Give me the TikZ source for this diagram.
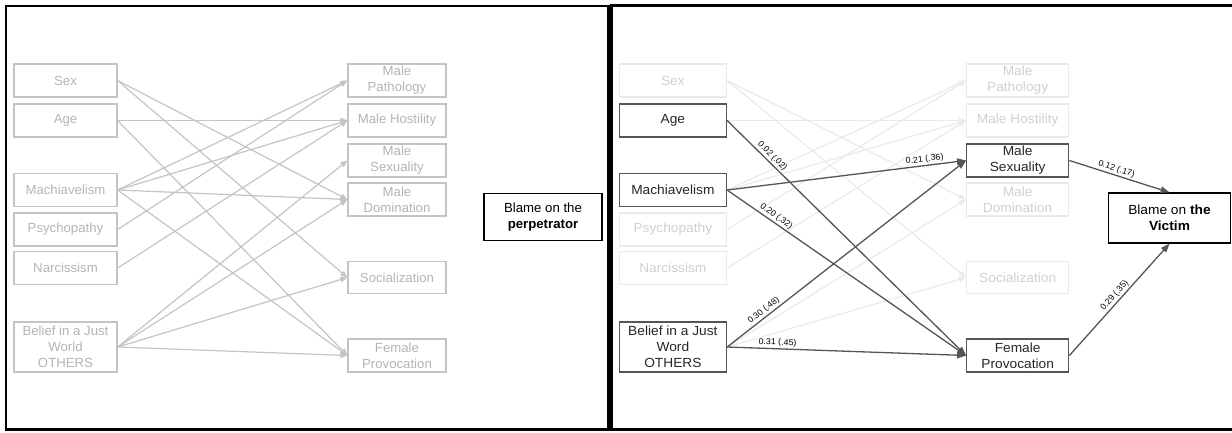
\documentclass[tikz,border=0pt]{standalone}
\usepackage{fontspec}
\setmainfont{Liberation Sans}
\usetikzlibrary{arrows.meta}
\definecolor{lgbox}{HTML}{C4C4C4}
\definecolor{lgtext}{HTML}{B4B4B4}
\definecolor{ffbox}{HTML}{EAEAEA}
\definecolor{fftext}{HTML}{D0D0D0}
\definecolor{dkline}{HTML}{555555}
\begin{document}
\begin{tikzpicture}[x=1pt,y=-1pt,
  box/.style={rectangle, minimum height=33pt, align=center, inner sep=0pt, font=\fontsize{13.2}{16}\selectfont},
  inbox/.style={box, minimum width=103pt},
  outbox/.style={box, minimum width=98pt},
  lightbox/.style={draw=lgbox, line width=1.2pt, text=lgtext},
  fadebox/.style={draw=ffbox, line width=1.2pt, text=fftext},
  darkbox/.style={draw=dkline, line width=1.3pt, text=black!85},
  blamebox/.style={box, draw=black, line width=1.1pt, minimum width=118pt, minimum height=47pt, text=black},
  ledge/.style={draw=lgbox, line width=1.2pt, -{Triangle[length=7pt,width=5.5pt]}},
  fedge/.style={draw=ffbox, line width=1.2pt, -{Triangle[length=7pt,width=5.5pt]}},
  dedge/.style={draw=dkline, line width=1.3pt, -{Triangle[length=9pt,width=6.5pt]}},
  lab/.style={font=\fontsize{8.5}{10}\selectfont, sloped, above, inner sep=1.5pt, text=black},
  frame/.style={draw=black, line width=2.4pt}
]
\useasboundingbox (0,0) rectangle (1232,432);
\draw[frame] (6,6) rectangle (608.5,429.5);
\draw[frame] (611.5,5.5) rectangle (1245,429.5);

% ---------- left panel ----------
\node[inbox,lightbox] (sex) at (65.5,80.5) {Sex};
\node[inbox,lightbox] (age) at (65.5,120.5) {Age};
\node[inbox,lightbox] (mach) at (65.5,190) {Machiavelism};
\node[inbox,lightbox] (psy) at (65.5,229.5) {Psychopathy};
\node[inbox,lightbox] (nar) at (65.5,268) {Narcissism};
\node[inbox,lightbox,minimum height=50pt] (bjw) at (65.5,347) {Belief in a Just\\World\\OTHERS};
\node[outbox,lightbox] (mpat) at (397,80.5) {Male\\Pathology};
\node[outbox,lightbox] (mhos) at (397,120.5) {Male Hostility};
\node[outbox,lightbox] (msex) at (397,160.5) {Male\\Sexuality};
\node[outbox,lightbox] (mdom) at (397,199.5) {Male\\Domination};
\node[outbox,lightbox,minimum height=32pt] (soc) at (397,277.5) {Socialization};
\node[outbox,lightbox] (fpro) at (397,355.5) {Female\\Provocation};
\node[blamebox] (bperp) at (543,217) {Blame on the\\\textbf{perpetrator}};

\draw[ledge] (sex.east) -- (mdom.west);
\draw[ledge] (sex.east) -- (soc.west);
\draw[ledge] (age.east) -- (mhos.west);
\draw[ledge] (age.east) -- (fpro.west);
\draw[ledge] (mach.east) -- (mpat.west);
\draw[ledge] (mach.east) -- (mhos.west);
\draw[ledge] (mach.east) -- (mdom.west);
\draw[ledge] (mach.east) -- (fpro.west);
\draw[ledge] (psy.east) -- (mpat.west);
\draw[ledge] (nar.east) -- (mhos.west);
\draw[ledge] (bjw.east) -- (msex.west);
\draw[ledge] (bjw.east) -- (mdom.west);
\draw[ledge] (bjw.east) -- (soc.west);
\draw[ledge] (bjw.east) -- (fpro.west);

% ---------- right panel ----------
\begin{scope}[shift={(604.76,0)}, xscale=1.04, transform shape]
\node[inbox,fadebox] (rsex) at (65.5,80.5) {Sex};
\node[inbox,darkbox] (rage) at (65.5,120.5) {Age};
\node[inbox,darkbox] (rmach) at (65.5,190) {Machiavelism};
\node[inbox,fadebox] (rpsy) at (65.5,229.5) {Psychopathy};
\node[inbox,fadebox] (rnar) at (65.5,268) {Narcissism};
\node[inbox,darkbox,minimum height=50pt] (rbjw) at (65.5,347) {Belief in a Just\\Word\\OTHERS};
\node[outbox,fadebox] (rmpat) at (397,80.5) {Male\\Pathology};
\node[outbox,fadebox] (rmhos) at (397,120.5) {Male Hostility};
\node[outbox,darkbox] (rmsex) at (397,160.5) {Male\\Sexuality};
\node[outbox,fadebox] (rmdom) at (397,199.5) {Male\\Domination};
\node[outbox,fadebox,minimum height=32pt] (rsoc) at (397,277.5) {Socialization};
\node[outbox,darkbox] (rfpro) at (397,355.5) {Female\\Provocation};
\node[blamebox,minimum height=50pt] (rvic) at (543,218) {Blame on \textbf{the}\\\textbf{Victim}};

\draw[fedge] (rsex.east) -- (rmdom.west);
\draw[fedge] (rsex.east) -- (rsoc.west);
\draw[fedge] (rage.east) -- (rmhos.west);
\draw[fedge] (rmach.east) -- (rmpat.west);
\draw[fedge] (rmach.east) -- (rmhos.west);
\draw[fedge] (rpsy.east) -- (rmpat.west);
\draw[fedge] (rnar.east) -- (rmhos.west);
\draw[fedge] (rbjw.east) -- (rmdom.west);
\draw[fedge] (rbjw.east) -- (rsoc.west);

\draw[dedge] (rage.east) -- node[lab, pos=0.17] {0.02 (.02)} (rfpro.west);
\draw[dedge] (rmach.east) -- node[lab, pos=0.83] {0.21 (.36)} (rmsex.west);
\draw[dedge] (rmach.east) -- node[lab, pos=0.19] {0.20 (.32)} (rfpro.west);
\draw[dedge] (rbjw.east) -- node[lab, pos=0.17] {0.30 (.48)} (rmsex.west);
\draw[dedge] (rbjw.east) -- node[lab, pos=0.21] {0.31 (.45)} (rfpro.west);
\draw[dedge] (rmsex.east) -- node[lab, pos=0.45] {0.12 (.17)} (rvic.north);
\draw[dedge] (rfpro.east) -- node[lab, pos=0.5] {0.29 (.35)} (rvic.south);
\end{scope}
\end{tikzpicture}
\end{document}
